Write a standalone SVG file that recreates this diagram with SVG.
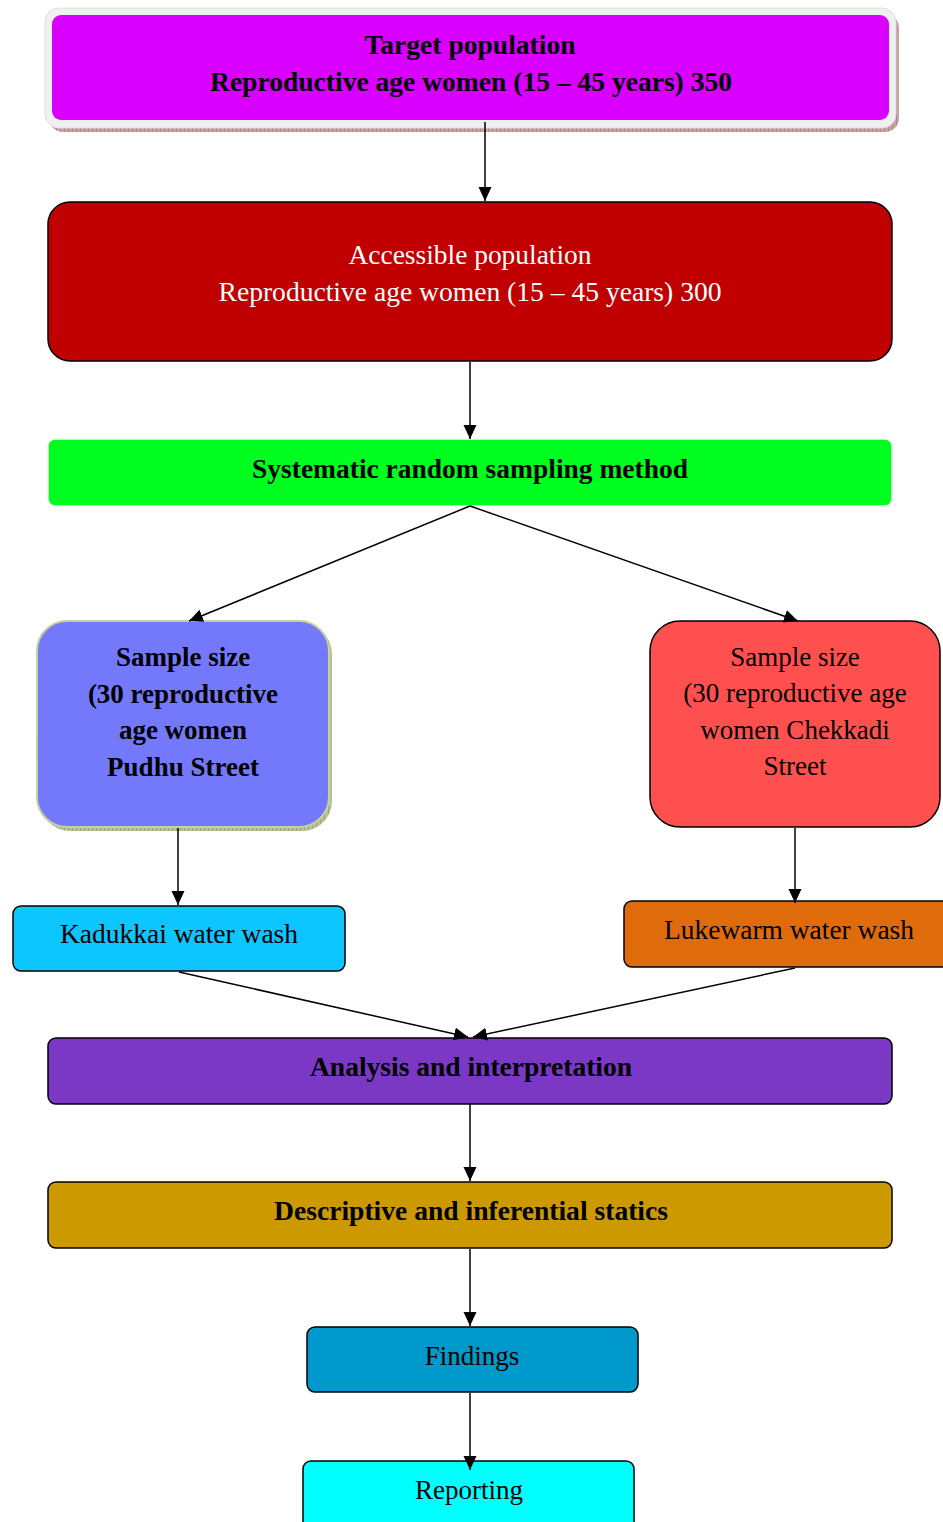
<svg xmlns="http://www.w3.org/2000/svg" width="943" height="1522" viewBox="0 0 943 1522">
<style>
text{font-family:"Liberation Serif","Times New Roman",serif;font-size:27px;text-anchor:middle;fill:#000}
.b{font-weight:bold}
.w{fill:#fff}
.box{stroke:#000;stroke-width:1.5}
.conn line{stroke:#000;stroke-width:1.5;marker-end:url(#ah)}
</style>
<defs>
<marker id="ah" markerUnits="userSpaceOnUse" markerWidth="15" markerHeight="14" refX="14" refY="6.5" orient="auto">
<path d="M0,0 L14,6.5 L0,13 Z" fill="#000"/>
</marker>
<pattern id="hatchR" width="4" height="4" patternUnits="userSpaceOnUse">
<rect width="4" height="4" fill="#c9a3a3"/>
<path d="M0,0 V4" stroke="#9a6a6a" stroke-width="1"/>
</pattern>
<pattern id="hatchG" width="4" height="4" patternUnits="userSpaceOnUse">
<rect width="4" height="4" fill="#b8c098"/>
<path d="M0,0 V4" stroke="#808860" stroke-width="1"/>
</pattern>
</defs>

<g id="target">
<rect x="49" y="14" width="850" height="118" rx="14" fill="url(#hatchR)"/>
<rect x="45" y="8" width="851" height="120" rx="14" fill="#f0f0f0" stroke="#e0e0e0"/>
<rect x="52" y="15" width="837" height="105" rx="9" fill="#d900ff"/>
<text class="b" x="470" y="54" textLength="211" lengthAdjust="spacingAndGlyphs">Target population</text>
<text class="b" x="471" y="91" textLength="522" lengthAdjust="spacingAndGlyphs">Reproductive age women (15 – 45 years) 350</text>
</g>

<g id="accessible">
<rect class="box" x="48" y="202" width="844" height="159" rx="22" fill="#c00000"/>
<text class="w" x="470" y="264" textLength="243" lengthAdjust="spacingAndGlyphs">Accessible population</text>
<text class="w" x="470" y="301" textLength="503" lengthAdjust="spacingAndGlyphs">Reproductive age women (15 – 45 years) 300</text>
</g>

<g id="sampling">
<rect x="48" y="439" width="844" height="67" rx="7" fill="#00ff20" stroke="#eef8ee" stroke-width="1.5"/>
<text class="b" x="470" y="478" textLength="436" lengthAdjust="spacingAndGlyphs">Systematic random sampling method</text>
</g>

<g id="sample-left">
<rect x="40" y="624" width="292" height="207" rx="30" fill="url(#hatchG)"/>
<rect x="37" y="621" width="292" height="206" rx="30" fill="#7479fc" stroke="#c2d49a" stroke-width="2"/>
<text class="b" x="183" y="666">Sample size</text>
<text class="b" x="183" y="703">(30 reproductive</text>
<text class="b" x="183" y="739">age women</text>
<text class="b" x="183" y="776">Pudhu Street</text>
</g>

<g id="sample-right">
<rect class="box" x="650" y="621" width="290" height="206" rx="30" fill="#ff5050"/>
<text x="795" y="666">Sample size</text>
<text x="795" y="702">(30 reproductive age</text>
<text x="795" y="739">women Chekkadi</text>
<text x="795" y="775">Street</text>
</g>

<g id="kadukkai">
<rect class="box" x="13" y="906" width="332" height="65" rx="8" fill="#0dc5ff"/>
<text x="179" y="943" textLength="238" lengthAdjust="spacingAndGlyphs">Kadukkai water wash</text>
</g>

<g id="lukewarm">
<rect class="box" x="624" y="901" width="330" height="66" rx="8" fill="#e06b0a"/>
<text x="789" y="939" textLength="250" lengthAdjust="spacingAndGlyphs">Lukewarm water wash</text>
</g>

<g id="analysis">
<rect class="box" x="48" y="1038" width="844" height="66" rx="8" fill="#7b38c4"/>
<text class="b" x="471" y="1076" textLength="322" lengthAdjust="spacingAndGlyphs">Analysis and interpretation</text>
</g>

<g id="descriptive">
<rect class="box" x="48" y="1182" width="844" height="66" rx="8" fill="#cc9900"/>
<text class="b" x="471" y="1220" textLength="394" lengthAdjust="spacingAndGlyphs">Descriptive and inferential statics</text>
</g>

<g id="findings">
<rect class="box" x="307" y="1327" width="331" height="65" rx="8" fill="#0099cc"/>
<text x="472" y="1365">Findings</text>
</g>

<g id="reporting">
<rect class="box" x="303" y="1461" width="331" height="72" rx="8" fill="#00ffff"/>
<text x="469" y="1499">Reporting</text>
</g>

<g id="connectors" class="conn">
<line x1="485" y1="122" x2="485" y2="201"/>
<line x1="470" y1="362" x2="470" y2="439"/>
<line x1="470" y1="506" x2="189" y2="621"/>
<line x1="470" y1="506" x2="798" y2="621"/>
<line x1="178" y1="828" x2="178" y2="905"/>
<line x1="795" y1="828" x2="795" y2="903"/>
<line x1="179" y1="972" x2="468" y2="1037"/>
<line x1="795" y1="968" x2="473" y2="1037"/>
<line x1="470" y1="1104" x2="470" y2="1181"/>
<line x1="470" y1="1249" x2="470" y2="1326"/>
<line x1="470" y1="1393" x2="470" y2="1470"/>
</g>
</svg>
